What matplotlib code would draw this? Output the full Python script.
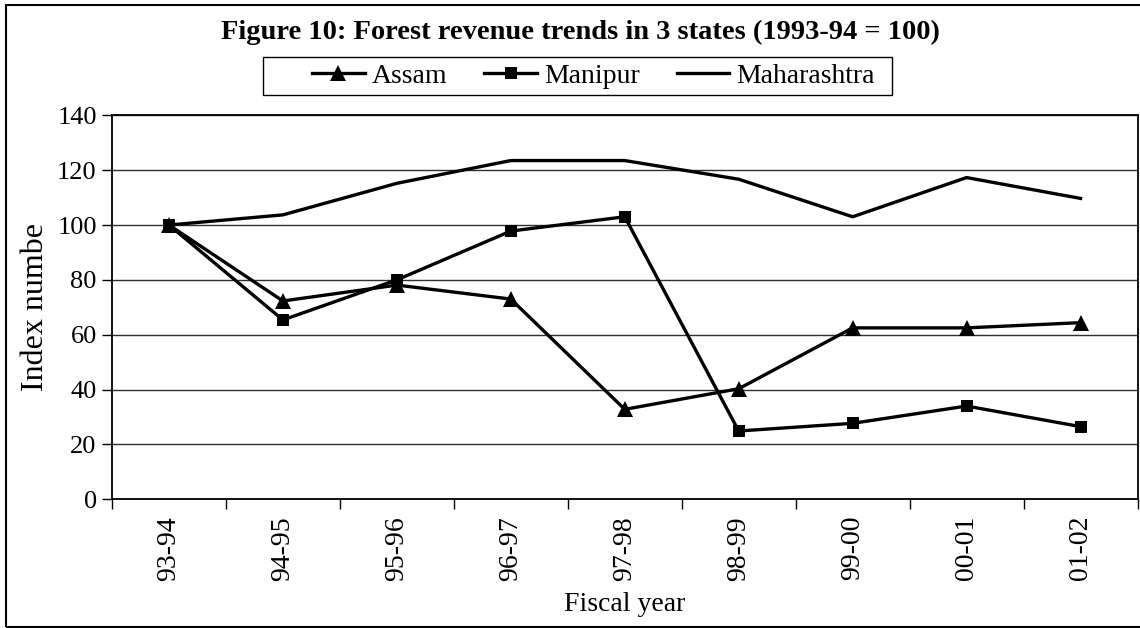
import matplotlib
matplotlib.use("Agg")
import matplotlib.pyplot as plt
from matplotlib.patches import Rectangle

plt.rcParams['font.family'] = ['Liberation Serif', 'DejaVu Serif']

# Fiscal years and index values (1993-94 = 100)
years = ["93-94", "94-95", "95-96", "96-97", "97-98", "98-99", "99-00", "00-01", "01-02"]
assam = [100, 72.3, 78.1, 73.0, 32.8, 40.3, 62.5, 62.5, 64.4]
manipur = [100, 65.4, 80.0, 97.8, 103.0, 24.9, 27.7, 34.0, 26.5]
maharashtra = [100, 103.7, 115.2, 123.5, 123.5, 116.7, 103.0, 117.3, 109.7]

W, H = 1140, 628
fig = plt.figure(figsize=(W / 100, H / 100), dpi=100)
ax = fig.add_axes([112 / W, 1 - 499.3 / H, 1025.5 / W, 384 / H])

x = list(range(len(years)))
ax.plot(x, assam, color='black', lw=2.4, marker='^', ms=11, mew=0, label='Assam')
ax.plot(x, manipur, color='black', lw=2.4, marker='s', ms=8.5, mew=0, label='Manipur')
ax.plot(x, maharashtra, color='black', lw=2.4, label='Maharashtra')

ax.set_ylim(0, 140)
ax.set_yticks(range(0, 141, 20))
ax.set_xlim(-0.5, len(years) - 0.5)
ax.yaxis.grid(True, color='#303030', lw=1.0)
ax.set_axisbelow(True)

# tick marks sit on category boundaries, labels in the middle
ax.set_xticks([i - 0.5 for i in range(len(years) + 1)])
ax.set_xticklabels([])
ax.set_xticks(x, minor=True)
ax.set_xticklabels(years, minor=True, rotation=90, fontsize=20)
ax.tick_params(axis='x', which='major', direction='out', length=7, width=1, color='black')
ax.tick_params(axis='x', which='minor', length=0, pad=12)
ax.tick_params(axis='y', direction='out', length=7, width=1, labelsize=19, pad=4)

for s in ax.spines.values():
    s.set_color('black')
    s.set_linewidth(1.3)

ax.set_xlabel("Fiscal year", fontsize=20, labelpad=8)
ax.set_ylabel("Index numbe", fontsize=23, labelpad=5)

fig.text(580 / W, 1 - 32 / H, "Figure 10: Forest revenue trends in 3 states (1993-94 = 100)",
         ha='center', va='center', fontsize=20.5, fontweight='bold')

# legend entries, with a separate box drawn around them
leg = fig.legend(loc='center left', bbox_to_anchor=(312 / W, 1 - 76 / H), ncol=3,
                 fontsize=20, frameon=False, handlelength=1.9, handletextpad=0.25,
                 columnspacing=1.33, borderpad=0, borderaxespad=0)
fig.patches.append(Rectangle((263 / W, 1 - 95 / H), 629 / W, 38 / H, transform=fig.transFigure,
                             fill=False, edgecolor='black', lw=1.0))

# outer chart border (its right side runs off the canvas)
fig.patches.append(Rectangle((6 / W, 1 / H), 1140 / W, 622 / H, transform=fig.transFigure,
                             fill=False, edgecolor='black', lw=1.5))

fig.savefig("out.png", dpi=100)
